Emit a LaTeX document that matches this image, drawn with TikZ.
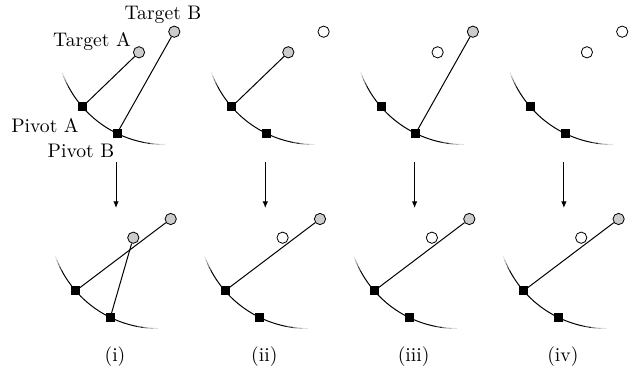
\documentclass[tikz,border=0pt]{standalone}
\usetikzlibrary{arrows.meta}
\definecolor{tgray}{gray}{0.8}
\begin{document}
\begin{tikzpicture}[x=0.55pt,y=-0.55pt,
  pivot/.style={draw=black,fill=black,inner sep=0pt,minimum size=4.4pt},
  goal/.style={circle,draw=black,line width=0.45pt,fill=tgray,inner sep=0pt,minimum size=6.2pt},
  freegoal/.style={circle,draw=black,line width=0.45pt,fill=white,inner sep=0pt,minimum size=6.2pt},
  arm/.style={line width=0.55pt},
  rail/.style={line width=0.55pt},
  step arrow/.style={line width=0.55pt,-{Latex[length=3.6pt,width=3pt]}},
  lbl/.style={inner sep=0pt,font=\fontsize{10.8}{13}\selectfont}]
\useasboundingbox (0,0) rectangle (632,371);
% rails and pivots
\foreach \k in {0,1,2,3}{
  \foreach \row/\ox/\oy in {t/0/0,b/-6.7/184}{
    \pgfmathsetmacro{\cx}{165+149.3*\k+\ox}
    \pgfmathsetmacro{\cy}{35+\oy}
    \draw[rail] plot[domain=208:259,samples=40] ({\cx+109.5*cos(\x)},{\cy-109.5*sin(\x)});
    \foreach \a/\o in {200/0.12,202/0.3,204/0.5,206/0.75}{
      \draw[rail,opacity=\o] plot[domain=\a:\a+2.1,samples=4] ({\cx+109.5*cos(\x)},{\cy-109.5*sin(\x)});
    }
    \foreach \a/\o in {259/0.75,261/0.5,264/0.3,267/0.12}{
      \draw[rail,opacity=\o] plot[domain=\a:\a+3.1,samples=4] ({\cx+109.5*cos(\x)},{\cy-109.5*sin(\x)});
    }
    \node[pivot] (pa\row\k) at ({\cx+109.5*cos(221)},{\cy-109.5*sin(221)}) {};
    \node[pivot] (pb\row\k) at ({\cx+109.5*cos(244)},{\cy-109.5*sin(244)}) {};
  }
  \coordinate (as\k) at ({116+149.3*\k},162);
  \coordinate (ae\k) at ({116+149.3*\k},208);
  \draw[step arrow] (as\k) -- (ae\k);
}
% top row targets
\node[goal] (tat0) at (139,52.3) {};
\node[goal] (tbt0) at (174.3,31.7) {};
\node[goal] (tat1) at (288.3,52.3) {};
\node[freegoal] (tbt1) at (323.6,31.7) {};
\node[freegoal] (tat2) at (437.6,52.3) {};
\node[goal] (tbt2) at (472.9,31.7) {};
\node[freegoal] (tat3) at (586.9,52.3) {};
\node[freegoal] (tbt3) at (622.2,31.7) {};
\draw[arm] (pat0) -- (tat0);
\draw[arm] (pbt0) -- (tbt0);
\draw[arm] (pat1) -- (tat1);
\draw[arm] (pbt2) -- (tbt2);
% bottom row targets
\node[goal] (tab0) at (133.3,237.7) {};
\node[goal] (tbb0) at (170.7,219) {};
\node[freegoal] (tab1) at (282.6,237.7) {};
\node[goal] (tbb1) at (320,219) {};
\node[freegoal] (tab2) at (431.9,237.7) {};
\node[goal] (tbb2) at (469.3,219) {};
\node[freegoal] (tab3) at (581.2,237.7) {};
\node[goal] (tbb3) at (618.6,219) {};
\draw[arm] (pab0) -- (tbb0);
\draw[arm] (pbb0) -- (tab0);
\draw[arm] (pab1) -- (tbb1);
\draw[arm] (pab2) -- (tbb2);
\draw[arm] (pab3) -- (tbb3);
% labels
\node[lbl] (lTB) at (163,15) {Target B};
\node[lbl] (lTA) at (92,41) {Target A};
\node[lbl] (lPA) at (45,125.5) {Pivot A};
\node[lbl] (lPB) at (81,150.5) {Pivot B};
\node[lbl] (c1) at (115,357) {(i)};
\node[lbl] (c2) at (264.3,357) {(ii)};
\node[lbl] (c3) at (413.6,357) {(iii)};
\node[lbl] (c4) at (562.9,357) {(iv)};
\end{tikzpicture}
\end{document}
